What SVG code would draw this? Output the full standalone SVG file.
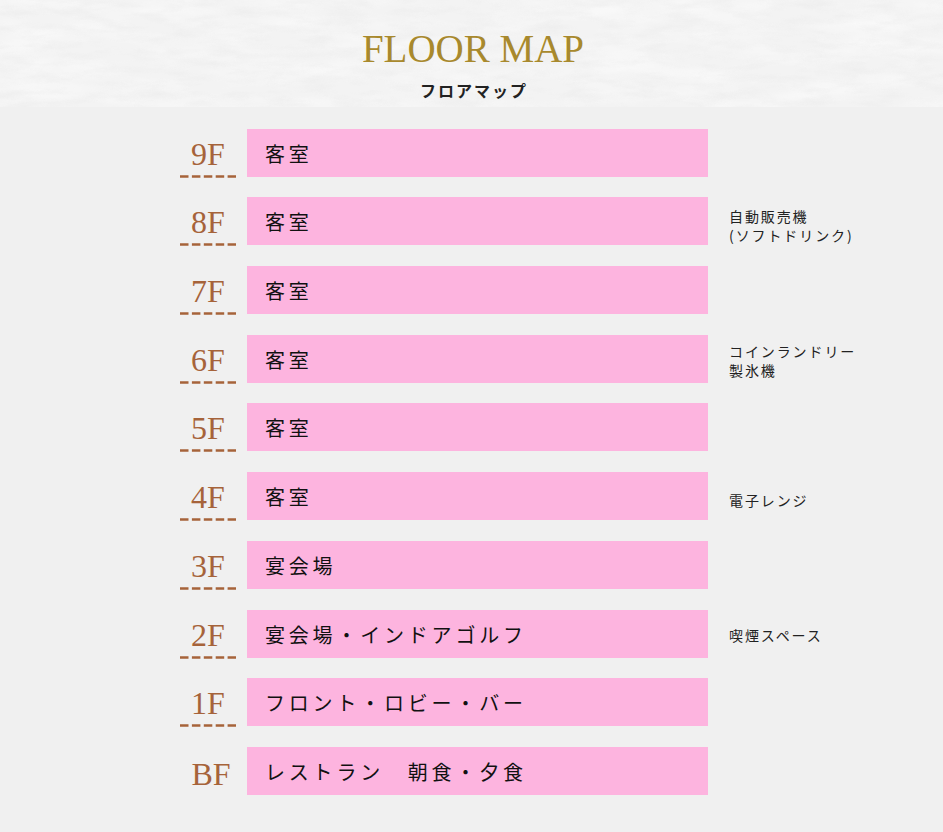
<svg xmlns="http://www.w3.org/2000/svg" width="943" height="832" viewBox="0 0 943 832">
<style>
.bar{fill:#fdb4df}
.fl{font-family:"Liberation Serif","DejaVu Serif",serif;font-size:32px;fill:#a6633a;text-anchor:middle}
.dash{stroke:#a6633a;stroke-width:2.6;stroke-dasharray:8.5 3.4;fill:none}
.room{font-family:"Noto Sans CJK JP","Noto Sans",sans-serif;font-size:20px;font-weight:normal;fill:#111;letter-spacing:3.8px}
.note{font-family:"Noto Sans CJK JP","Noto Sans",sans-serif;font-size:14px;fill:#222;letter-spacing:1.9px}
</style>
<defs>
<filter id="paper" x="0" y="0" width="100%" height="100%">
<feTurbulence type="fractalNoise" baseFrequency="0.012 0.05" numOctaves="4" seed="7"/>
<feColorMatrix type="matrix" values="0 0 0 0 1  0 0 0 0 1  0 0 0 0 1  1.4 0 0 0 -0.55"/>
</filter>
<filter id="paper2" x="0" y="0" width="100%" height="100%">
<feTurbulence type="fractalNoise" baseFrequency="0.03 0.12" numOctaves="4" seed="2"/>
<feColorMatrix type="matrix" values="0 0 0 0 0.82  0 0 0 0 0.82  0 0 0 0 0.82  1.4 0 0 0 -0.6"/>
</filter>
</defs>
<rect x="0" y="0" width="943" height="832" fill="#f0f0f0"/>
<g id="header">
<rect x="0" y="0" width="943" height="107" fill="#f3f3f3"/>
<rect x="0" y="0" width="943" height="107" filter="url(#paper)" opacity="0.7"/>
<rect x="0" y="0" width="943" height="107" filter="url(#paper2)" opacity="0.7"/>
<text x="473" y="61.5" font-family="'Liberation Serif','DejaVu Serif',serif" font-size="39" fill="#a8892d" text-anchor="middle">FLOOR MAP</text>
<text x="474" y="97" font-family="'Noto Sans CJK JP','Noto Sans',sans-serif" font-size="16" font-weight="bold" fill="#222" text-anchor="middle" letter-spacing="2">フロアマップ</text>
</g>
<g id="floor-9F">
<text class="fl" x="208" y="165">9F</text>
<line class="dash" x1="180" y1="176.5" x2="236" y2="176.5"/>
<rect class="bar" x="247" y="129" width="461" height="48"/>
<text class="room" x="265" y="161.5">客室</text>
</g>
<g id="floor-8F">
<text class="fl" x="208" y="233">8F</text>
<line class="dash" x1="180" y1="244.5" x2="236" y2="244.5"/>
<rect class="bar" x="247" y="197" width="461" height="48"/>
<text class="room" x="265" y="229.5">客室</text>
<text class="note" x="729" y="222">自動販売機</text>
<text class="note" x="729" y="241">(ソフトドリンク)</text>
</g>
<g id="floor-7F">
<text class="fl" x="208" y="302">7F</text>
<line class="dash" x1="180" y1="313.5" x2="236" y2="313.5"/>
<rect class="bar" x="247" y="266" width="461" height="48"/>
<text class="room" x="265" y="298.5">客室</text>
</g>
<g id="floor-6F">
<text class="fl" x="208" y="371">6F</text>
<line class="dash" x1="180" y1="382.5" x2="236" y2="382.5"/>
<rect class="bar" x="247" y="335" width="461" height="48"/>
<text class="room" x="265" y="367.5">客室</text>
<text class="note" x="729" y="357">コインランドリー</text>
<text class="note" x="729" y="376">製氷機</text>
</g>
<g id="floor-5F">
<text class="fl" x="208" y="439">5F</text>
<line class="dash" x1="180" y1="450.5" x2="236" y2="450.5"/>
<rect class="bar" x="247" y="403" width="461" height="48"/>
<text class="room" x="265" y="435.5">客室</text>
</g>
<g id="floor-4F">
<text class="fl" x="208" y="508">4F</text>
<line class="dash" x1="180" y1="519.5" x2="236" y2="519.5"/>
<rect class="bar" x="247" y="472" width="461" height="48"/>
<text class="room" x="265" y="504.5">客室</text>
<text class="note" x="729" y="506">電子レンジ</text>
</g>
<g id="floor-3F">
<text class="fl" x="208" y="577">3F</text>
<line class="dash" x1="180" y1="588.5" x2="236" y2="588.5"/>
<rect class="bar" x="247" y="541" width="461" height="48"/>
<text class="room" x="265" y="573.5">宴会場</text>
</g>
<g id="floor-2F">
<text class="fl" x="208" y="646">2F</text>
<line class="dash" x1="180" y1="657.5" x2="236" y2="657.5"/>
<rect class="bar" x="247" y="610" width="461" height="48"/>
<text class="room" x="265" y="642.5">宴会場・インドアゴルフ</text>
<text class="note" x="729" y="641">喫煙スペース</text>
</g>
<g id="floor-1F">
<text class="fl" x="208" y="714">1F</text>
<line class="dash" x1="180" y1="725.5" x2="236" y2="725.5"/>
<rect class="bar" x="247" y="678" width="461" height="48"/>
<text class="room" x="265" y="710.5">フロント・ロビー・バー</text>
</g>
<g id="floor-BF">
<text class="fl" x="211" y="785">BF</text>
<rect class="bar" x="247" y="747" width="461" height="48"/>
<text class="room" x="265" y="779.5">レストラン　朝食・夕食</text>
</g>
</svg>
